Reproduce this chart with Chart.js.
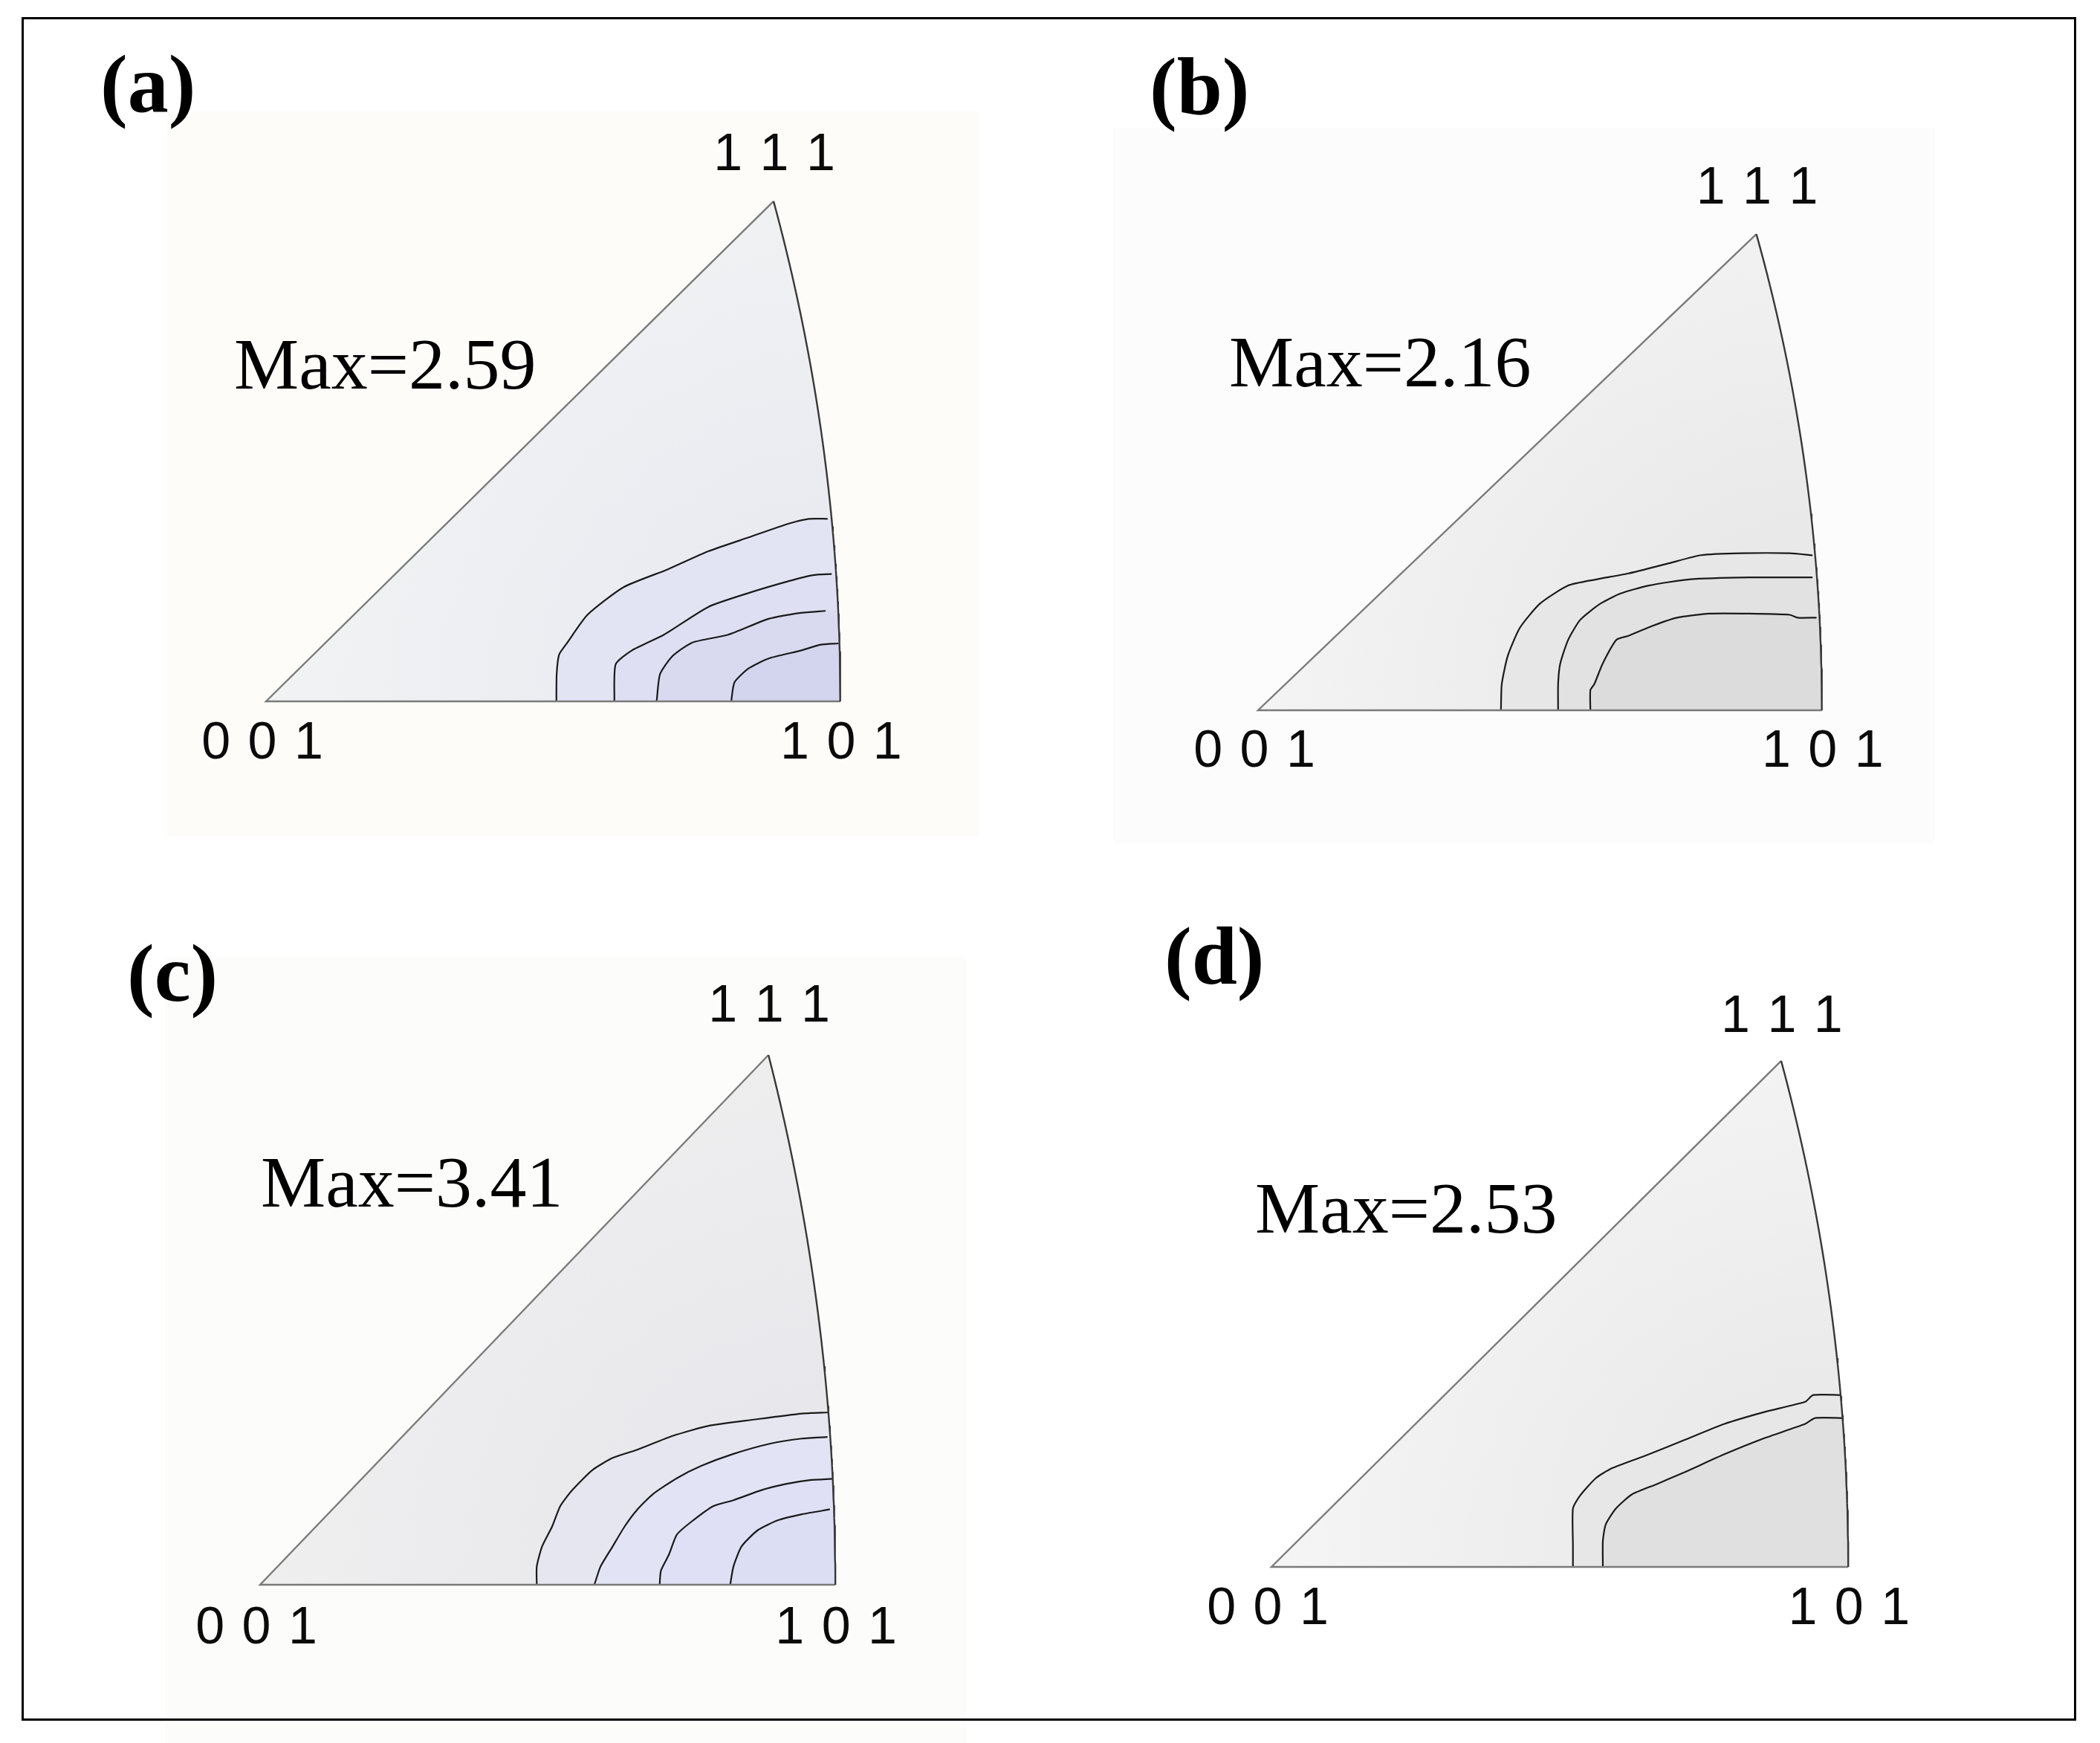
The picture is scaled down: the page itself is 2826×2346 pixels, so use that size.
<!DOCTYPE html>
<html>
<head>
<meta charset="utf-8">
<script src="https://cdn.jsdelivr.net/npm/chart.js@4.4.0/dist/chart.umd.min.js"></script>
<style>
html,body{margin:0;padding:0;background:#ffffff;}
canvas{display:block;}
</style>
</head>
<body>
<canvas id="ipf" width="2826" height="2346" style="width:2826px;height:2346px"></canvas>
<script>
// ================= DATA =================
const panelNames = ['(a)', '(b)', '(c)', '(d)'];
const maxValues = [2.59, 2.16, 3.41, 2.53];
const poleLabels = ['0 0 1', '1 0 1', '1 1 1'];

// contour lines, stereographic coordinates (x, y) inside the 001-101-111 triangle
const contourA1 = [[0.2094,0],[0.2096,0.0200],[0.2114,0.0343],[0.2173,0.0430],[0.2318,0.0633],[0.2579,0.0836],[0.2899,0.0967],[0.3189,0.1098],[0.3480,0.1200],[0.3770,0.1301],[0.3915,0.1336],[0.4046,0.1336]];
const contourA2 = [[0.2512,0],[0.2521,0.0270],[0.2637,0.0372],[0.2870,0.0488],[0.3189,0.0691],[0.3480,0.0793],[0.3770,0.0880],[0.3944,0.0924],[0.4075,0.0932]];
const contourA3 = [[0.2817,0],[0.2841,0.0198],[0.2928,0.0328],[0.3073,0.0430],[0.3334,0.0488],[0.3625,0.0604],[0.3857,0.0648],[0.4031,0.0662]];
const contourA4 = [[0.3355,0],[0.3378,0.0139],[0.3480,0.0241],[0.3625,0.0314],[0.3857,0.0372],[0.4002,0.0415],[0.4124,0.0424]];

const contourB1 = [[0.1784,0],[0.1790,0.0201],[0.1834,0.0418],[0.1923,0.0634],[0.2071,0.0820],[0.2278,0.0959],[0.2485,0.1006],[0.2722,0.1052],[0.3018,0.1130],[0.3254,0.1192],[0.3550,0.1207],[0.3905,0.1207],[0.4068,0.1192]];
const contourB2 = [[0.2204,0],[0.2204,0.0201],[0.2219,0.0356],[0.2278,0.0542],[0.2367,0.0696],[0.2515,0.0820],[0.2663,0.0898],[0.2870,0.0959],[0.3166,0.1006],[0.3609,0.1021],[0.4068,0.1021]];
const contourB3 = [[0.2441,0],[0.2441,0.0155],[0.2470,0.0201],[0.2530,0.0356],[0.2633,0.0542],[0.2722,0.0573],[0.2899,0.0650],[0.3077,0.0712],[0.3314,0.0743],[0.3609,0.0743],[0.3905,0.0734],[0.3964,0.0712],[0.4098,0.0712]];

const contourC1 = [[0.1992,0],[0.1992,0.0125],[0.2030,0.0264],[0.2103,0.0403],[0.2161,0.0543],[0.2248,0.0654],[0.2393,0.0793],[0.2538,0.0876],[0.2712,0.0932],[0.2973,0.1029],[0.3234,0.1099],[0.3553,0.1141],[0.3901,0.1183],[0.4089,0.1191]];
const contourC2 = [[0.2407,0],[0.2451,0.0125],[0.2538,0.0264],[0.2625,0.0403],[0.2712,0.0515],[0.2828,0.0626],[0.3002,0.0737],[0.3176,0.0821],[0.3408,0.0904],[0.3669,0.0974],[0.3901,0.1010],[0.4081,0.1021]];
const contourC3 = [[0.2877,0],[0.2886,0.0097],[0.2944,0.0209],[0.3002,0.0348],[0.3118,0.0445],[0.3263,0.0543],[0.3408,0.0584],[0.3611,0.0654],[0.3785,0.0696],[0.3959,0.0723],[0.4118,0.0732]];
const contourC4 = [[0.3385,0],[0.3408,0.0125],[0.3466,0.0264],[0.3582,0.0376],[0.3727,0.0445],[0.3901,0.0487],[0.4098,0.0520]];

const contourD1 = [[0.2165,0],[0.2165,0.0160],[0.2165,0.0422],[0.2212,0.0510],[0.2328,0.0641],[0.2444,0.0713],[0.2675,0.0801],[0.2964,0.0917],[0.3253,0.1034],[0.3542,0.1121],[0.3832,0.1194],[0.3890,0.1243],[0.4086,0.1243]];
const contourD2 = [[0.2380,0],[0.2380,0.0189],[0.2400,0.0306],[0.2473,0.0422],[0.2588,0.0524],[0.2762,0.0597],[0.2964,0.0684],[0.3253,0.0815],[0.3542,0.0932],[0.3832,0.1034],[0.3904,0.1077],[0.4098,0.1077]];

const panelContours = [
  [contourA1, contourA2, contourA3, contourA4],
  [contourB1, contourB2, contourB3],
  [contourC1, contourC2, contourC3, contourC4],
  [contourD1, contourD2]
];

// ================= STYLE / LAYOUT =================
const W = 2826, H = 2346;
const panelLayout = [
  {id:'a', ox:358,  oy:944,  sx:1866, sy:1839, letter:[135,150],  max:[315,523],  paper:[225,150,1316,1126],  topOff:-61, botOff:58},
  {id:'b', ox:1693, oy:956,  sx:1832, sy:1751, letter:[1547,154], max:[1654,520], paper:[1498,172,2604,1135], topOff:-60, botOff:57},
  {id:'c', ox:350,  oy:2133, sx:1869, sy:1948, letter:[171,1347], max:[351,1624], paper:[222,1289,1301,2346], topOff:-64, botOff:60},
  {id:'d', ox:1711, oy:2109, sx:1874, sy:1861, letter:[1567,1324],max:[1689,1659], paper:null,                topOff:-58, botOff:58}
];
const panelPaper = ['#fdfcf9', '#fcfcfc', '#fcfcfb', '#fdfdfd'];
const triangleInner = ['#eaebf1', '#e9e9e9', '#e8e8ec', '#eaeaea'];
const triangleOuter = ['#f1f3f3', '#f4f4f4', '#efefef', '#f5f5f5'];
const regionFill = [
  ['#e3e4f3', '#dedff2', '#d9daf0', '#d3d4ee'],
  ['#e7e7e7', '#e2e2e2', '#dcdcdc'],
  ['#e5e6f0', '#e2e3f4', '#dfe0f5', '#dcdef4'],
  ['#e7e7e7', '#e0e0e0']
];

// ================= GEOMETRY (standard cubic IPF boundary) =================
const X101 = Math.SQRT2 - 1;
const S111 = (Math.sqrt(3) - 1) / 2;
function arcX(y) { return Math.sqrt(2 - y * y) - 1; }
function arcDown(y0, n) {
  const pts = [];
  for (let i = 0; i <= n; i++) { const y = y0 * (1 - i / n); pts.push({x: arcX(y), y: y}); }
  return pts;
}
const toPts = arr => arr.map(p => ({x: p[0], y: p[1]}));

// canvas gradient (style) centred on the 101 pole of a panel
const canvasEl = document.getElementById('ipf');
const ctx2d = canvasEl.getContext('2d');
function poleGradient(L, k) {
  const cx = L.ox + X101 * L.sx, cy = L.oy;
  const g = ctx2d.createRadialGradient(cx, cy, 0.14 * L.sx, cx, cy, 0.42 * L.sx);
  g.addColorStop(0, triangleInner[k]);
  g.addColorStop(1, triangleOuter[k]);
  return g;
}

// ================= DATASETS =================
const datasets = [];
const scales = {
  x: {type:'linear', display:false},
  y: {type:'linear', display:false}
};
panelLayout.forEach((L, k) => {
  const xid = 'x' + L.id, yid = 'y' + L.id;
  scales[xid] = {type:'linear', axis:'x', display:false, min: -L.ox / L.sx, max: (W - L.ox) / L.sx};
  scales[yid] = {type:'linear', axis:'y', display:false, min: (L.oy - H) / L.sy, max: L.oy / L.sy};
  const base = {xAxisID: xid, yAxisID: yid, showLine: true, pointRadius: 0, pointHoverRadius: 0, tension: 0};

  // whole triangle background (shaded radially from the 101 pole)
  datasets.push(Object.assign({}, base, {
    data: [{x:0, y:0}, {x:S111, y:S111}].concat(arcDown(S111, 80).slice(1)),
    backgroundColor: poleGradient(L, k),
    borderWidth: 0, fill: 'origin', order: 100
  }));
  // contour regions + lines
  panelContours[k].forEach((c, j) => {
    const pts = toPts(c);
    const yEnd = pts[pts.length - 1].y;
    datasets.push(Object.assign({}, base, {
      data: pts.concat(arcDown(yEnd, 30)),
      backgroundColor: regionFill[k][j], borderWidth: 0, fill: 'origin', tension: 0.2, order: 90 - j
    }));
    datasets.push(Object.assign({}, base, {
      data: pts, borderColor: '#1a1a1a', borderWidth: 2.2, fill: false, tension: 0.2,
      borderJoinStyle: 'round', borderCapStyle: 'round', order: 10
    }));
  });
  // triangle outline: straight edges and great-circle arc
  datasets.push(Object.assign({}, base, {
    data: [{x:X101, y:0}, {x:0, y:0}, {x:S111, y:S111}],
    borderColor: '#7a7a7a', borderWidth: 2.4, fill: false, order: 5
  }));
  datasets.push(Object.assign({}, base, {
    data: arcDown(S111, 80),
    borderColor: '#383838', borderWidth: 2.4, fill: false, order: 4
  }));
});

// ================= DECORATION PLUGIN (texts, frame) =================
const decor = {
  id: 'decor',
  beforeDraw(chart) {
    const ctx = chart.ctx;
    ctx.save();
    ctx.fillStyle = '#ffffff';
    ctx.fillRect(0, 0, W, H);
    panelLayout.forEach((L, k) => {
      if (!L.paper) return;
      ctx.fillStyle = panelPaper[k];
      ctx.fillRect(L.paper[0], L.paper[1], L.paper[2] - L.paper[0], L.paper[3] - L.paper[1]);
    });
    ctx.restore();
  },
  afterDatasetsDraw(chart) {
    const ctx = chart.ctx;
    ctx.save();
    panelLayout.forEach((L, k) => {
      const xs = chart.scales['x' + L.id], ys = chart.scales['y' + L.id];
      // panel letter
      ctx.fillStyle = '#000';
      ctx.textAlign = 'left';
      ctx.textBaseline = 'alphabetic';
      ctx.font = 'bold 110px "Liberation Serif", "Times New Roman", serif';
      ctx.fillText(panelNames[k], L.letter[0], L.letter[1]);
      // Max value
      ctx.font = '98px "Liberation Serif", "Times New Roman", serif';
      ctx.fillText('Max=' + maxValues[k].toFixed(2), L.max[0], L.max[1]);
      // pole labels
      ctx.font = '70px "Liberation Sans", Arial, sans-serif';
      if ('letterSpacing' in ctx) ctx.letterSpacing = '2px';
      ctx.textAlign = 'center';
      ctx.textBaseline = 'middle';
      ctx.fillStyle = '#0a0a0a';
      ctx.fillText(poleLabels[0], xs.getPixelForValue(0) - 4, ys.getPixelForValue(0) + L.botOff);
      ctx.fillText(poleLabels[1], xs.getPixelForValue(X101) + 2, ys.getPixelForValue(0) + L.botOff);
      ctx.fillText(poleLabels[2], xs.getPixelForValue(S111) + 2, ys.getPixelForValue(S111) + L.topOff);
      if ('letterSpacing' in ctx) ctx.letterSpacing = '0px';
    });
    // outer frame
    ctx.strokeStyle = '#000';
    ctx.lineWidth = 3;
    ctx.strokeRect(30.5, 24.5, 2762, 2290);
    ctx.restore();
  }
};

new Chart(canvasEl, {
  type: 'scatter',
  data: {datasets: datasets},
  options: {
    responsive: false,
    maintainAspectRatio: false,
    devicePixelRatio: 1,
    animation: false,
    events: [],
    layout: {padding: 0},
    scales: scales,
    plugins: {legend: {display: false}, tooltip: {enabled: false}, title: {display: false}}
  },
  plugins: [decor]
});
</script>
</body>
</html>
